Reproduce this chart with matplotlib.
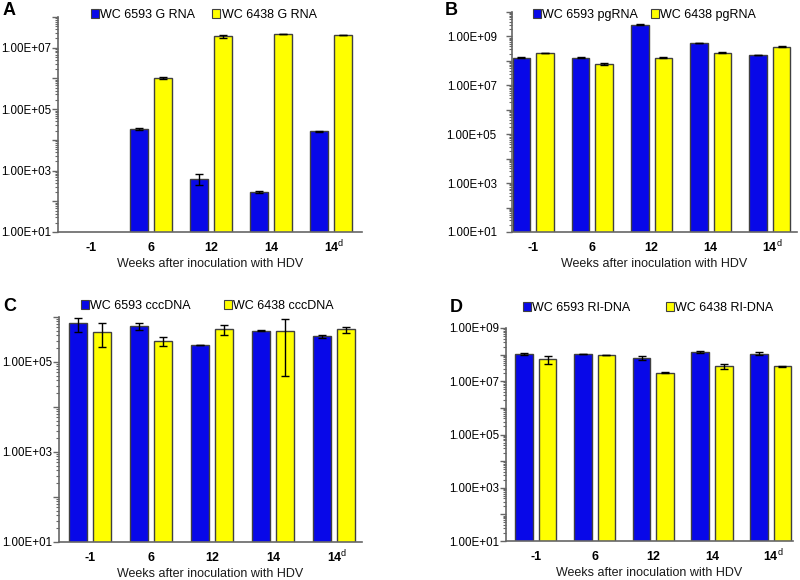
import numpy as np
import matplotlib
matplotlib.use("Agg")
import matplotlib.pyplot as plt
from matplotlib.ticker import LogLocator, FuncFormatter, NullFormatter
from matplotlib.patches import Rectangle

plt.rcParams['font.family'] = ['Liberation Sans', 'DejaVu Sans']

# Weeks after inoculation
weeks = ['-1', '6', '12', '14', '14']
week_sup = ['', '', '', '', 'd']

# Panel A - G RNA
a_6593 = [np.nan, 2.3e4, 5.5e2, 2.0e2, 1.9e4]
a_6593_err = [0, 1.5e3, 2.0e2, 1.0e1, 8e2]
a_6438 = [np.nan, 1.05e6, 2.35e7, 2.75e7, 2.6e7]
a_6438_err = [0, 1.0e5, 2.5e6, 3e5, 3e5]

# Panel B - pgRNA
b_6593 = [1.35e8, 1.35e8, 3.0e9, 5.4e8, 1.75e8]
b_6593_err = [6e6, 6e6, 1.2e8, 2e7, 6e6]
b_6438 = [2.1e8, 7.6e7, 1.35e8, 2.2e8, 3.8e8]
b_6438_err = [5e6, 5e6, 8e6, 1e7, 1.5e7]

# Panel C - cccDNA
c_6593 = [7.2e5, 6.2e5, 2.4e5, 5.0e5, 3.7e5]
c_6593_err = [2.5e5, 1.0e5, 3e3, 5e3, 2.5e4]
c_6438 = [4.7e5, 2.95e5, 5.3e5, 4.8e5, 5.3e5]
c_6438_err = [2.5e5, 7e4, 1.4e5, 4.3e5, 8e4]

# Panel D - RI-DNA
d_6593 = [1.07e8, 1.07e8, 7.6e7, 1.23e8, 1.1e8]
d_6593_err = [1e7, 2e6, 1.3e7, 1.1e7, 1.1e7]
d_6438 = [6.9e7, 9.8e7, 2.1e7, 3.6e7, 3.6e7]
d_6438_err = [2.3e7, 3e6, 5e5, 8e6, 1e6]

BLUE = '#0808e8'
YELLOW = '#ffff00'
EDGE = '#404040'
SPINE = '#666666'

fig = plt.figure(figsize=(8, 5.8), dpi=100)
W, H = 800, 580


def add_axes_px(left, top, right, bottom):
    return fig.add_axes([left / W, 1 - bottom / H, (right - left) / W, (bottom - top) / H])


def draw_panel(ax, blue, blue_err, yellow, yellow_err, ymax, xlim, labels,
               legend_xy, colsp, letter, letter_xy, ypad=1):
    x = np.arange(len(weeks))
    ekw = dict(ecolor='black', elinewidth=1, capsize=3, capthick=1)
    ax.bar(x - 0.2, blue, 0.3, color=BLUE, edgecolor=EDGE, linewidth=1, yerr=blue_err, error_kw=ekw)
    ax.bar(x + 0.2, yellow, 0.3, color=YELLOW, edgecolor=EDGE, linewidth=1, yerr=yellow_err, error_kw=ekw)
    ax.set_yscale('log')
    ax.set_ylim(10, ymax)
    ax.set_xlim(*xlim)
    ax.set_xticks(x)
    ax.set_xticklabels(weeks, fontweight='bold', fontsize=9)
    ax.tick_params(axis='x', length=0, pad=7)
    # superscript marks on tick labels
    for xi, sup in zip(x, week_sup):
        if sup:
            ax.annotate(sup, xy=(xi, 0), xycoords=('data', 'axes fraction'),
                        xytext=(5, -8.5), textcoords='offset points',
                        fontsize=6.5, ha='left', va='center')
    ax.yaxis.set_major_locator(LogLocator(base=10, numticks=20))
    ax.yaxis.set_major_formatter(FuncFormatter(
        lambda v, p: f"{v:.2E}" if round(np.log10(v)) % 2 == 1 else ''))
    ax.yaxis.set_minor_locator(LogLocator(base=10, subs=np.arange(2, 10), numticks=20))
    ax.yaxis.set_minor_formatter(NullFormatter())
    ax.tick_params(axis='y', which='major', length=4, width=1, color=SPINE, labelsize=8.3, pad=ypad)
    ax.tick_params(axis='y', which='minor', length=2.5, width=0.8, color=SPINE)
    for s in ['top', 'right']:
        ax.spines[s].set_visible(False)
    for s in ['left', 'bottom']:
        ax.spines[s].set_color(SPINE)
        ax.spines[s].set_linewidth(1.2)
    ax.set_xlabel('Weeks after inoculation with HDV', fontsize=9, color='#1a1a1a', labelpad=3)
    handles = [Rectangle((0, 0), 1, 1, facecolor=BLUE, edgecolor=EDGE, linewidth=0.8),
               Rectangle((0, 0), 1, 1, facecolor=YELLOW, edgecolor=EDGE, linewidth=0.8)]
    fig.legend(handles, labels, loc='center left', ncol=2, frameon=False, fontsize=9,
               bbox_to_anchor=(legend_xy[0] / W, 1 - legend_xy[1] / H),
               handlelength=0.65, handleheight=0.65, handletextpad=0.1,
               columnspacing=colsp, borderpad=0, borderaxespad=0)
    fig.text(letter_xy[0] / W, 1 - letter_xy[1] / H, letter, fontsize=13,
             fontweight='bold', va='baseline', ha='left')


axA = add_axes_px(58, 17, 362, 232)
draw_panel(axA, a_6593, a_6593_err, a_6438, a_6438_err, 1e8, (-0.55, 4.52),
           ['WC 6593 G RNA', 'WC 6438 G RNA'], (91, 15), 1.35, 'A', (3, 15))

axB = add_axes_px(512, 12, 797, 232)
draw_panel(axB, b_6593, b_6593_err, b_6438, b_6438_err, 1e10, (-0.36, 4.46),
           ['WC 6593 pgRNA', 'WC 6438 pgRNA'], (533, 15), 1.0, 'B', (445, 15), ypad=7)

axC = add_axes_px(59, 317, 362, 542)
draw_panel(axC, c_6593, c_6593_err, c_6438, c_6438_err, 1e6, (-0.51, 4.46),
           ['WC 6593 cccDNA', 'WC 6438 cccDNA'], (81, 306), 2.6, 'C', (3, 311))

axD = add_axes_px(506, 328, 793, 541)
draw_panel(axD, d_6593, d_6593_err, d_6438, d_6438_err, 1e9, (-0.51, 4.38),
           ['WC 6593 RI-DNA', 'WC 6438 RI-DNA'], (523, 308), 2.8, 'D', (450, 312))

fig.savefig('out.png', dpi=100)
